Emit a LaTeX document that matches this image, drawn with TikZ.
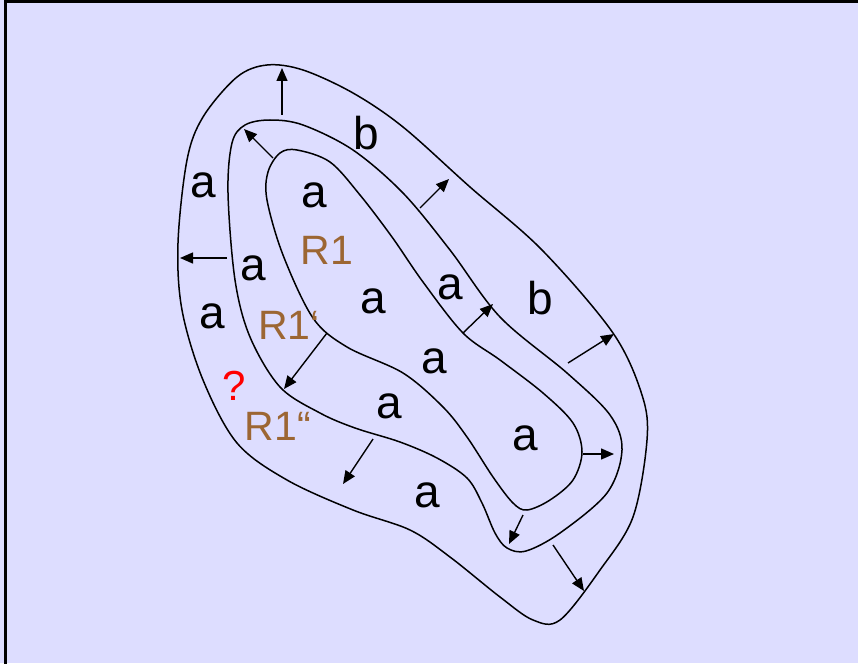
\documentclass[tikz,border=0pt]{standalone}
\usepackage{fontspec}
\setmainfont{Liberation Sans}
\usetikzlibrary{arrows.meta}
\definecolor{bg}{HTML}{DDDDFF}
\definecolor{rbrown}{HTML}{9C6633}
\begin{document}
\begin{tikzpicture}[x=1pt,y=-1pt,
  contour/.style={line width=1.5pt,black},
  push/.style={line width=1.4pt,-{Triangle[length=13pt,width=11pt]}},
  lab/.style={font=\fontsize{46}{50}\selectfont,inner sep=0pt},
  reg/.style={font=\fontsize{41}{45}\selectfont,inner sep=0pt,text=rbrown},
  qm/.style={font=\fontsize{42}{45}\selectfont,inner sep=0pt,text=red}]
\useasboundingbox (0,0) rectangle (858,663);
\fill[bg] (0,0) rectangle (858,663);
\draw[line width=2.5pt] (5.5,700) -- (5.5,1.5) -- (900,1.5);
% outer contour
\draw[contour] plot[smooth cycle,tension=0.55] coordinates {
 (267,65) (303,70) (353,93) (403,127) (470,187) (542,250) (613,333) (642,395)
 (647,440) (633,517) (600,570) (560,620) (533,620) (500,597) (450,557)
 (410,530) (353,510) (287,480) (237,443) (203,380) (182,310) (178,243)
 (187,160) (203,117) (237,77)};
% middle contour
\draw[contour] plot[smooth cycle,tension=0.55] coordinates {
 (270,120) (303,125) (353,150) (403,193) (450,250) (500,317) (567,373)
 (610,415) (622,450) (607,493) (560,533) (526,551) (507,548) (495,533)
 (482,503) (467,478) (437,458) (400,442) (355,428) (320,413) (280,387) (250,337)
 (235,280) (228,193) (232,143) (245,125)};
% inner contour
\draw[contour] plot[smooth cycle,tension=0.55] coordinates {
 (297,150) (330,162) (360,195) (392,237) (423,282) (463,333)
 (500,360) (543,393) (573,423) (582,452) (573,480) (550,500) (527,510)
 (513,503) (493,477) (467,437) (443,407) (403,373) (347,347) (313,318)
 (283,255) (267,200) (268,172) (280,153)};
% growth arrows
\coordinate (a1s) at (282,115); \coordinate (a1e) at (282,68);
\coordinate (a2s) at (273,158); \coordinate (a2e) at (244,129);
\coordinate (a3s) at (227,258); \coordinate (a3e) at (180,258);
\coordinate (a4s) at (420,208); \coordinate (a4e) at (449,179);
\coordinate (a5s) at (463,333); \coordinate (a5e) at (493,304);
\coordinate (a6s) at (568,363); \coordinate (a6e) at (614,334);
\coordinate (a7s) at (583,454); \coordinate (a7e) at (614,454);
\coordinate (a8s) at (523,515); \coordinate (a8e) at (509,544);
\coordinate (a9s) at (553,545); \coordinate (a9e) at (584,591);
\coordinate (a10s) at (327,333); \coordinate (a10e) at (284,389);
\coordinate (a11s) at (373,439); \coordinate (a11e) at (343,484);
\foreach \i in {1,...,11} \draw[push] (a\i s) -- (a\i e);
% labels
\node[lab] (l1) at (203,185) {a};
\node[lab] (l2) at (366,133) {b};
\node[lab] (l3) at (314,195) {a};
\node[reg] (r1) at (327,250) {R1};
\node[lab] (l4) at (253,268) {a};
\node[lab] (l5) at (212,316) {a};
\node[reg] (r2) at (289,325) {R1‘};
\node[lab] (l6) at (373,301) {a};
\node[lab] (l7) at (450,287) {a};
\node[lab] (l8) at (540,298) {b};
\node[lab] (l9) at (434,361) {a};
\node[qm] (q) at (234,386) {?};
\node[reg] (r3) at (278,426) {R1“};
\node[lab] (l10) at (389,406) {a};
\node[lab] (l11) at (525,438) {a};
\node[lab] (l12) at (427,495) {a};
\end{tikzpicture}
\end{document}
